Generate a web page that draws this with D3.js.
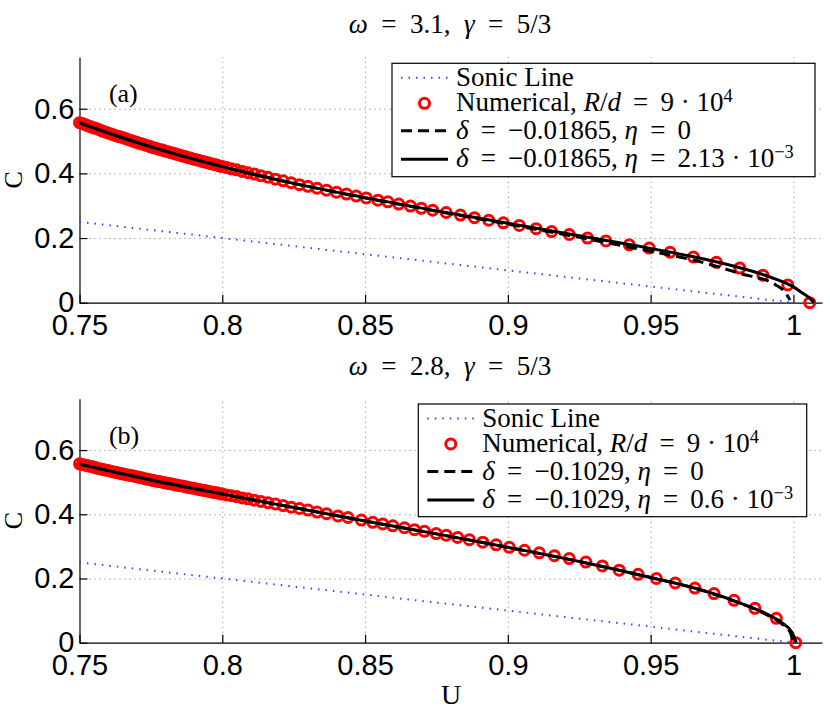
<!DOCTYPE html>
<html>
<head>
<meta charset="utf-8">
<script src="https://cdn.jsdelivr.net/npm/d3@7"></script>
<style>
  body { margin: 0; background: #fff; }
  text { white-space: pre; }
</style>
</head>
<body>
<div id="chart"></div>
<script>
// ---- data ----
var tickU = [0.75, 0.8, 0.85, 0.9, 0.95, 1];
var tickULabels = ["0.75", "0.8", "0.85", "0.9", "0.95", "1"];
var tickC = [0, 0.2, 0.4, 0.6];
var tickCLabels = ["0", "0.2", "0.4", "0.6"];

// sonic line C = 1 - U (same in both panels)
var sonicU = [0.75, 1.0];
var sonicC = [0.25, 0.0];

// panel (a): omega = 3.1
var numU_a = [0.750, 0.751, 0.752, 0.753, 0.754, 0.755, 0.756, 0.757, 0.758, 0.759,
    0.760, 0.761, 0.762, 0.763, 0.764, 0.765, 0.766, 0.767, 0.768, 0.769,
    0.770, 0.771, 0.772, 0.773, 0.774, 0.775, 0.776, 0.777, 0.778, 0.779,
    0.780, 0.781, 0.782, 0.783, 0.784, 0.785, 0.786, 0.787, 0.788, 0.789,
    0.790, 0.791, 0.792, 0.793, 0.794, 0.795, 0.796, 0.797, 0.798, 0.799, 0.800,
    0.8015, 0.8032, 0.805, 0.807, 0.809, 0.8112, 0.8135, 0.816, 0.8186, 0.8213,
    0.8241, 0.827, 0.830, 0.8332, 0.8365, 0.840, 0.8435,
    0.8469, 0.8504, 0.8545, 0.8580, 0.8618, 0.8659, 0.8697, 0.8737, 0.8784, 0.8834,
    0.8883, 0.8933, 0.8984, 0.9040, 0.9099, 0.9153, 0.9215, 0.9279, 0.9343, 0.9425,
    0.9495, 0.9568, 0.9650, 0.9730, 0.9812, 0.9893, 0.9980, 1.0057];
var numC_a = [0.557, 0.554, 0.551, 0.547, 0.544, 0.541, 0.538, 0.535, 0.531, 0.528,
    0.525, 0.522, 0.519, 0.516, 0.514, 0.511, 0.508, 0.505, 0.502, 0.499,
    0.496, 0.493, 0.491, 0.488, 0.485, 0.482, 0.479, 0.477, 0.474, 0.472,
    0.469, 0.467, 0.464, 0.462, 0.459, 0.457, 0.454, 0.452, 0.449, 0.447,
    0.444, 0.442, 0.440, 0.437, 0.435, 0.433, 0.430, 0.428, 0.426, 0.423, 0.421,
    0.418, 0.414, 0.411, 0.406, 0.402, 0.398, 0.393, 0.388, 0.382, 0.377,
    0.371, 0.365, 0.360, 0.354, 0.348, 0.342, 0.336,
    0.330, 0.324, 0.317, 0.312, 0.305, 0.299, 0.292, 0.286, 0.279, 0.271,
    0.263, 0.255, 0.247, 0.239, 0.229, 0.220, 0.211, 0.200, 0.191, 0.179,
    0.169, 0.156, 0.141, 0.125, 0.107, 0.085, 0.055, 0.0];
var solidU_a = [0.75, 0.76, 0.775, 0.79, 0.80, 0.825, 0.85, 0.875, 0.90, 0.925, 0.95, 0.965, 0.98, 0.99, 0.995, 1.0, 1.003, 1.0055, 1.0072];
var solidC_a = [0.556, 0.525, 0.482, 0.444, 0.421, 0.369, 0.325, 0.284, 0.246, 0.207, 0.168, 0.142, 0.111, 0.085, 0.069, 0.049, 0.031, 0.016, 0.0];
var dashU_a = [0.75, 0.775, 0.8, 0.825, 0.85, 0.875, 0.9, 0.925, 0.95, 0.965, 0.981, 0.9938, 0.997, 0.9988];
var dashC_a = [0.556, 0.482, 0.421, 0.369, 0.324, 0.283, 0.243, 0.202, 0.159, 0.132, 0.091, 0.055, 0.033, 0.008];

// panel (b): omega = 2.8
var numU_b = [0.750, 0.751, 0.752, 0.753, 0.754, 0.755, 0.756, 0.757, 0.758, 0.759,
    0.760, 0.761, 0.762, 0.763, 0.764, 0.765, 0.766, 0.767, 0.768, 0.769,
    0.770, 0.771, 0.772, 0.773, 0.774, 0.775, 0.776, 0.777, 0.778, 0.779,
    0.780, 0.781, 0.782, 0.783, 0.784, 0.785, 0.786, 0.787, 0.788, 0.789,
    0.790, 0.791, 0.792, 0.793, 0.794, 0.795, 0.796, 0.797, 0.798, 0.799, 0.800,
    0.8015, 0.8032, 0.805, 0.807, 0.809, 0.8112, 0.8135, 0.816, 0.8186, 0.8213,
    0.8241, 0.827, 0.830, 0.8332, 0.8365, 0.8405,
    0.8440, 0.8487, 0.8527, 0.8562, 0.8597, 0.8638, 0.8673, 0.8708, 0.8749, 0.8784,
    0.8824, 0.8865, 0.8912, 0.8959, 0.9005, 0.9058, 0.9110, 0.9163, 0.9215, 0.9273,
    0.9331, 0.9390, 0.9456, 0.9520, 0.9586, 0.9655, 0.9722, 0.9792, 0.9865, 0.9940, 1.0008];
var numC_b = [0.557, 0.555, 0.553, 0.551, 0.549, 0.547, 0.544, 0.542, 0.540, 0.538,
    0.536, 0.534, 0.532, 0.530, 0.528, 0.526, 0.524, 0.522, 0.521, 0.519,
    0.517, 0.515, 0.513, 0.511, 0.509, 0.507, 0.505, 0.503, 0.502, 0.500,
    0.498, 0.496, 0.495, 0.493, 0.491, 0.489, 0.488, 0.486, 0.484, 0.482,
    0.481, 0.479, 0.477, 0.475, 0.474, 0.472, 0.470, 0.468, 0.467, 0.465, 0.463,
    0.460, 0.458, 0.455, 0.451, 0.448, 0.444, 0.440, 0.436, 0.432, 0.427,
    0.422, 0.418, 0.413, 0.407, 0.402, 0.395,
    0.390, 0.382, 0.375, 0.370, 0.364, 0.358, 0.352, 0.347, 0.340, 0.335,
    0.328, 0.321, 0.313, 0.305, 0.297, 0.288, 0.280, 0.271, 0.262, 0.251,
    0.239, 0.226, 0.213, 0.200, 0.186, 0.170, 0.153, 0.132, 0.107, 0.076, 0.0];
var solidU_b = [0.75, 0.76, 0.775, 0.8, 0.825, 0.85, 0.875, 0.9, 0.925, 0.95, 0.965, 0.98, 0.99, 0.996, 0.9995, 1.0005, 1.001];
var solidC_b = [0.556, 0.536, 0.507, 0.463, 0.421, 0.379, 0.339, 0.297, 0.253, 0.203, 0.171, 0.128, 0.092, 0.062, 0.032, 0.012, 0.0];
var dashU_b = [0.75, 0.775, 0.8, 0.825, 0.85, 0.875, 0.9, 0.925, 0.95, 0.965, 0.98, 0.99, 0.996, 0.999, 0.9997];
var dashC_b = [0.556, 0.507, 0.463, 0.421, 0.379, 0.339, 0.297, 0.253, 0.203, 0.171, 0.127, 0.090, 0.058, 0.030, 0.005];

// text pieces: [text, italic?, superscript?]
var title_a = [["ω", 1], ["  =  3.1,  "], ["γ", 1], ["  =  5/3"]];
var title_b = [["ω", 1], ["  =  2.8,  "], ["γ", 1], ["  =  5/3"]];
var legend_a = [
    [["Sonic Line"]],
    [["Numerical, "], ["R", 1], ["/"], ["d", 1], [" \u2009=\u2009 9 · 10"], ["4", 0, 1]],
    [["δ", 1], [" \u2009=\u2009 −0.01865, "], ["η", 1], [" \u2009=\u2009 0"]],
    [["δ", 1], [" \u2009=\u2009 −0.01865, "], ["η", 1], [" \u2009=\u2009 2.13 · 10"], ["−3", 0, 1]]
];
var legend_b = [
    [["Sonic Line"]],
    [["Numerical, "], ["R", 1], ["/"], ["d", 1], [" \u2009=\u2009 9 · 10"], ["4", 0, 1]],
    [["δ", 1], [" \u2009=\u2009 −0.1029, "], ["η", 1], [" \u2009=\u2009 0"]],
    [["δ", 1], [" \u2009=\u2009 −0.1029, "], ["η", 1], [" \u2009=\u2009 0.6 · 10"], ["−3", 0, 1]]
];

// ---- layout ----
var W = 830, H = 709;
var xLeft = 79.5, xRight = 822;
var serif = "'Liberation Serif', 'Times New Roman', serif";
var sans = "'Liberation Sans', Arial, sans-serif";
var blue = "#2a4cff";

var svg = d3.select("#chart")
    .append("svg")
    .attr("width", W)
    .attr("height", H);

var x = d3.scaleLinear()
    .domain([0.75, 1.01])
    .range([xLeft, xRight]);

function zip(us, cs) {
    return us.map(function (u, i) { return { U: u, C: cs[i] }; });
}

function addMath(sel, pieces) {
    pieces.forEach(function (p) {
        var t = sel.append("tspan").text(p[0]);
        if (p[1]) t.style("font-style", "italic");
        if (p[2]) t.attr("dy", "-0.5em").style("font-size", "68%");
    });
}

function drawPanel(p) {
    var y = d3.scaleLinear()
        .domain([0, 0.76])
        .range([p.bottom, p.top]);

    var g = svg.append("g");

    // add the X gridlines
    g.append("g")
        .attr("class", "grid")
        .attr("transform", "translate(0," + p.bottom + ")")
        .call(d3.axisBottom(x)
            .tickValues(tickU.slice(1))
            .tickSize(-(p.bottom - p.top))
            .tickFormat("")
        );

    // add the Y gridlines
    g.append("g")
        .attr("class", "grid")
        .attr("transform", "translate(" + xLeft + ",0)")
        .call(d3.axisLeft(y)
            .tickValues(tickC.slice(1))
            .tickSize(-(xRight - xLeft))
            .tickFormat("")
        );
    g.selectAll(".grid .domain").remove();
    g.selectAll(".grid line")
        .attr("stroke", "#7a7a7a")
        .attr("stroke-width", 1)
        .attr("stroke-dasharray", "1,4");

    // Add X axis
    var xAxis = g.append("g")
        .attr("transform", "translate(0," + p.bottom + ")")
        .call(d3.axisBottom(x)
            .tickValues(tickU)
            .tickFormat(function (d, i) { return tickULabels[i]; })
            .tickSizeInner(-8)
            .tickSizeOuter(0)
            .tickPadding(12));

    // Add Y axis
    var yAxis = g.append("g")
        .attr("transform", "translate(" + xLeft + ",0)")
        .call(d3.axisLeft(y)
            .tickValues(tickC)
            .tickFormat(function (d, i) { return tickCLabels[i]; })
            .tickSizeInner(-8)
            .tickSizeOuter(0)
            .tickPadding(5));

    [xAxis, yAxis].forEach(function (a) {
        a.selectAll("text")
            .style("font-family", sans)
            .style("font-size", "29px")
            .attr("fill", "#000");
        a.selectAll("line, path").attr("stroke", "#000").attr("stroke-width", 1.2);
    });

    // Add Y axis label
    g.append("text")
        .attr("transform", "translate(22," + (y(0.38)) + ") rotate(-90)")
        .attr("text-anchor", "middle")
        .style("font-family", serif)
        .style("font-size", "26px")
        .text("C");

    // Add panel title
    var title = g.append("text")
        .attr("x", 450)
        .attr("y", p.top - 24)
        .attr("text-anchor", "middle")
        .style("font-family", serif)
        .style("font-size", "27px");
    addMath(title, p.title);

    // Panel tag
    g.append("text")
        .attr("x", x(0.7603))
        .attr("y", y(0.62))
        .style("font-family", serif)
        .style("font-size", "26px")
        .text(p.tag);

    var line = d3.line()
        .x(function (d) { return x(d.U); })
        .y(function (d) { return y(d.C); });
    var smooth = d3.line()
        .curve(d3.curveMonotoneX)
        .x(function (d) { return x(d.U); })
        .y(function (d) { return y(d.C); });

    // Sonic line
    g.append("path")
        .datum(zip(sonicU, sonicC))
        .attr("fill", "none")
        .attr("stroke", blue)
        .attr("stroke-width", 2)
        .attr("stroke-dasharray", "1.5,6")
        .attr("d", line);

    // Numerical points
    g.selectAll("circle.num")
        .data(zip(p.numU, p.numC))
        .enter()
        .append("circle")
        .attr("class", "num")
        .attr("cx", function (d) { return x(d.U); })
        .attr("cy", function (d) { return y(d.C); })
        .attr("r", 5)
        .attr("fill", "none")
        .attr("stroke", "#ff0000")
        .attr("stroke-width", 3);

    // Dashed (eta = 0)
    g.append("path")
        .datum(zip(p.dashU, p.dashC))
        .attr("fill", "none")
        .attr("stroke", "#000")
        .attr("stroke-width", 3)
        .attr("stroke-dasharray", "11,6")
        .attr("d", smooth);

    // Solid
    g.append("path")
        .datum(zip(p.solidU, p.solidC))
        .attr("fill", "none")
        .attr("stroke", "#000")
        .attr("stroke-width", 3)
        .attr("d", smooth);

    // Legend box
    var lg = g.append("g")
        .attr("transform", "translate(" + p.legX + "," + p.legY + ")");
    lg.append("rect")
        .attr("width", p.legW)
        .attr("height", p.legH)
        .attr("fill", "#fff")
        .attr("stroke", "#000")
        .attr("stroke-width", 1.2);

    var rowBase = [22.5, 48, 75.5, 104];
    var sx0 = 9, sx1 = 56;
    p.legend.forEach(function (row, i) {
        var cy = rowBase[i] - 8;
        if (i === 0) {
            lg.append("line")
                .attr("x1", sx0).attr("x2", sx1).attr("y1", cy).attr("y2", cy)
                .attr("stroke", blue)
                .attr("stroke-width", 2)
                .attr("stroke-dasharray", "1.5,6");
        } else if (i === 1) {
            lg.append("circle")
                .attr("cx", (sx0 + sx1) / 2).attr("cy", cy)
                .attr("r", 5)
                .attr("fill", "none")
                .attr("stroke", "#ff0000")
                .attr("stroke-width", 3);
        } else {
            lg.append("line")
                .attr("x1", sx0).attr("x2", sx1).attr("y1", cy).attr("y2", cy)
                .attr("stroke", "#000")
                .attr("stroke-width", 3)
                .attr("stroke-dasharray", i === 2 ? "11,6" : null);
        }
        var t = lg.append("text")
            .attr("x", sx1 + 8)
            .attr("y", rowBase[i])
            .style("font-family", serif)
            .style("font-size", "27px");
        addMath(t, row);
    });
}

drawPanel({
    top: 57, bottom: 302.7, title: title_a, tag: "(a)",
    numU: numU_a, numC: numC_a, solidU: solidU_a, solidC: solidC_a, dashU: dashU_a, dashC: dashC_a,
    legend: legend_a, legX: 392, legY: 63.3, legW: 423, legH: 113.4
});
drawPanel({
    top: 398.7, bottom: 642.7, title: title_b, tag: "(b)",
    numU: numU_b, numC: numC_b, solidU: solidU_b, solidC: solidC_b, dashU: dashU_b, dashC: dashC_b,
    legend: legend_b, legX: 418.3, legY: 404, legW: 388.4, legH: 112.7
});

// Add X axis label
svg.append("text")
    .attr("x", 451)
    .attr("y", 704)
    .attr("text-anchor", "middle")
    .style("font-family", serif)
    .style("font-size", "28px")
    .text("U");
</script>
</body>
</html>
